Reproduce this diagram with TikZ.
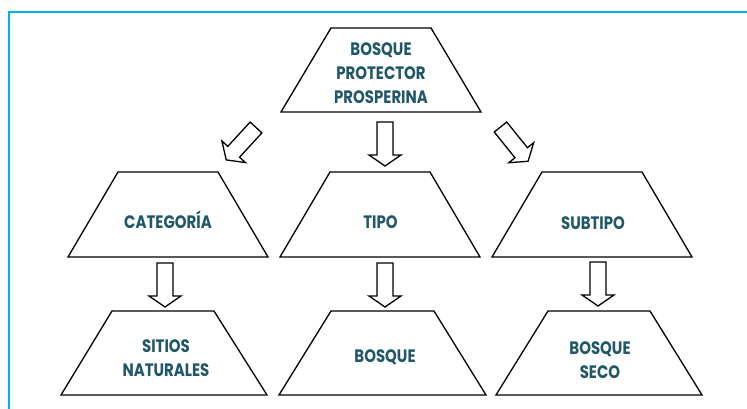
\documentclass[tikz,border=0pt]{standalone}
\usepackage{fontspec}
\setmainfont{Poppins}[FakeStretch=0.83]
\definecolor{frameblue}{HTML}{00B0F0}
\definecolor{txtteal}{HTML}{215868}
\begin{document}
\begin{tikzpicture}[x=1pt,y=1pt,
  trap/.style={draw=black,line width=1.3pt,line join=miter,fill=white},
  lbl/.style={text=txtteal,font=\fontsize{18}{24}\selectfont\bfseries,align=center,inner sep=0pt},
  barrow/.style={draw=black,line width=1.3pt,fill=white,line join=miter},
  frame/.style={draw=frameblue,line width=2.2pt}]
\useasboundingbox (0,0) rectangle (747,409);
\fill[white] (0,0) rectangle (747,409);
% frame
\draw[frame] (9,0) -- (9,397) -- (747,397);
% trapezoids
\draw[trap] (281,297) -- (331,381) -- (431,381) -- (481,297) -- cycle;
\draw[trap] (68,152) -- (118,237) -- (218,237) -- (268,152) -- cycle;
\draw[trap] (280,152) -- (330,237) -- (430,237) -- (480,152) -- cycle;
\draw[trap] (492,152) -- (542,237) -- (642,237) -- (692,152) -- cycle;
\draw[trap] (61,14) -- (112,98) -- (214,98) -- (267,14) -- cycle;
\draw[trap] (279,14) -- (331,98) -- (434,98) -- (486,14) -- cycle;
\draw[trap] (496,14) -- (548,98) -- (650,98) -- (702,14) -- cycle;
% labels
\node[lbl] (bpp) at (381,336) {BOSQUE\\PROTECTOR\\PROSPERINA};
\node[lbl] (cat) at (168,189) {CATEGORÍA};
\node[lbl] (tipo) at (380.5,187) {TIPO};
\node[lbl] (sub) at (593,186) {SUBTIPO};
\node[lbl] (sit) at (166,50.5) {SITIOS\\NATURALES};
\node[lbl] (bos) at (385,52) {BOSQUE};
\node[lbl] (sec) at (600,49) {BOSQUE\\SECO};
% block arrows (tail at origin, pointing along +x)
\def\blockarrow{(0,8) -- (33,8) -- (33,16) -- (44,0) -- (33,-16) -- (33,-8) -- (0,-8) -- cycle}
\draw[barrow,shift={(385,287)},rotate=-90] \blockarrow;
\draw[barrow,shift={(256,281.5)},rotate=227.4] \blockarrow;
\draw[barrow,shift={(500.5,282)},rotate=-51.2] \blockarrow;
\draw[barrow,shift={(165,146)},rotate=-90] \blockarrow;
\draw[barrow,shift={(385,146)},rotate=-90] \blockarrow;
\draw[barrow,shift={(598,147)},rotate=-90] \blockarrow;
\end{tikzpicture}
\end{document}
